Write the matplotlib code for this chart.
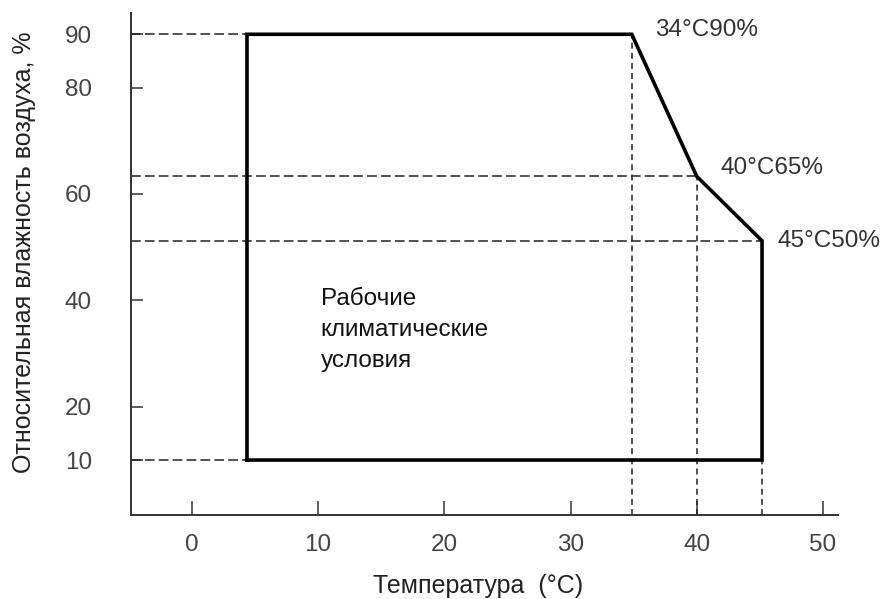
import matplotlib
matplotlib.use("Agg")
import matplotlib.pyplot as plt

plt.rcParams['font.family'] = ['Liberation Sans', 'DejaVu Sans']
plt.rcParams['lines.scale_dashes'] = False

# Data
region_x = [4.36, 4.36, 34.85, 40.0, 45.17, 45.17, 4.36]
region_y = [10, 90, 90, 63.3, 51.2, 10, 10]
corner_labels = ["34°C90%", "40°C65%", "45°C50%"]
corner_x = [34.85, 40.0, 45.17]
corner_y = [90, 63.3, 51.2]
xticks = [0, 10, 20, 30, 40, 50]
yticks = [10, 20, 40, 60, 80, 90]
xlabel = "Температура  (°C)"
ylabel = "Относительная влажность воздуха, %"
region_text = "Рабочие\nклиматические\nусловия"

W, H = 887, 599
fig = plt.figure(figsize=(W / 100, H / 100), dpi=100)
ax = fig.add_axes([131 / W, 84 / H, (838 - 131) / W, (515 - 13) / H])
xmin, xmax = -4.83, 51.19
ymin, ymax = -0.33, 94.0
ax.set_xlim(xmin, xmax)
ax.set_ylim(ymin, ymax)

for s in ['top', 'right']:
    ax.spines[s].set_visible(False)
for s in ['left', 'bottom']:
    ax.spines[s].set_color('#333333')
    ax.spines[s].set_linewidth(1.4)

ax.set_xticks(xticks)
ax.set_yticks(yticks)
ax.tick_params(axis='x', direction='in', length=10, width=1.1, color='#333333',
               pad=13.5, labelsize=17.5, labelcolor='#444444')
ax.tick_params(axis='y', direction='in', length=8.5, width=1.1, color='#333333',
               pad=28, labelsize=17.5, labelcolor='#444444')

dash_kw = dict(color='#222222', lw=1.1)
# horizontal guide lines
ax.plot([xmin, region_x[1]], [90, 90], dashes=(7, 3), **dash_kw)
ax.plot([xmin, region_x[0]], [10, 10], dashes=(7, 3), **dash_kw)
ax.plot([xmin, corner_x[1]], [corner_y[1], corner_y[1]], dashes=(7, 3), **dash_kw)
ax.plot([xmin, corner_x[2]], [corner_y[2], corner_y[2]], dashes=(7, 3), **dash_kw)
# vertical guide lines
for cx, cy in zip(corner_x, corner_y):
    ax.plot([cx, cx], [ymin, cy], dashes=(4.3, 3), **dash_kw)

ax.plot(region_x, region_y, color='black', lw=2.6, solid_joinstyle='miter')

offsets = [(17, 3), (17, 6), (11, 0)]
for lab, cx, cy, off in zip(corner_labels, corner_x, corner_y, offsets):
    ax.annotate(lab, (cx, cy), xytext=off, textcoords='offset points',
                ha='left', va='center', fontsize=17.5, color='#333333')

ax.text(10.2, 42.3, region_text, ha='left', va='top', fontsize=17.5,
        color='#111111', linespacing=1.52)

fig.text(478 / W, 6 / H, xlabel, ha='center', va='baseline', fontsize=18,
         color='#222222')
fig.text(24 / W, 1 - 252 / H, ylabel, ha='center', va='center', rotation=90,
         fontsize=18, color='#222222')

fig.savefig('out.png', dpi=100)
